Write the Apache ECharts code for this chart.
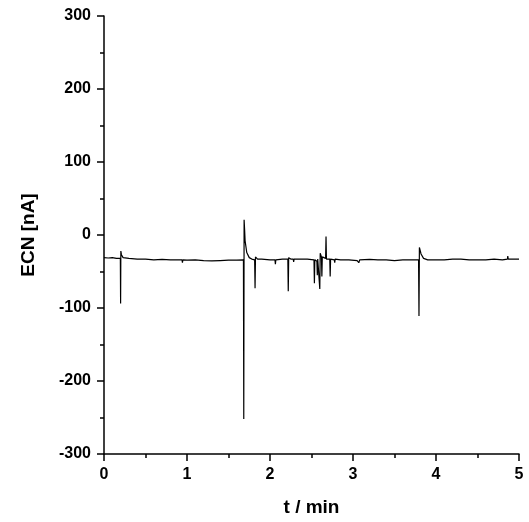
<!DOCTYPE html>
<html><head><meta charset="utf-8">
<script src="https://cdn.jsdelivr.net/npm/echarts@6/dist/echarts.min.js"></script>
<style>html,body{margin:0;padding:0;background:#fff}#c{width:529px;height:522px}</style>
</head><body><div id="c"></div>
<script>
const timeMin = [0.00,0.05,0.10,0.15,0.197,0.200,0.203,0.21,0.23,0.30,0.40,0.50,0.60,0.70,0.80,0.90,0.94,0.945,0.95,1.00,1.10,1.20,1.30,1.40,1.50,1.60,1.680,1.684,1.688,1.695,1.70,1.72,1.75,1.78,1.815,1.82,1.825,1.85,1.90,2.00,2.06,2.065,2.07,2.15,2.215,2.22,2.225,2.25,2.28,2.285,2.29,2.35,2.45,2.53,2.535,2.54,2.565,2.57,2.575,2.595,2.60,2.605,2.62,2.625,2.63,2.67,2.675,2.68,2.72,2.725,2.73,2.775,2.78,2.785,2.85,2.95,3.05,3.07,3.08,3.20,3.30,3.40,3.50,3.60,3.70,3.79,3.795,3.80,3.82,3.85,3.90,4.00,4.10,4.20,4.30,4.40,4.50,4.60,4.70,4.80,4.86,4.865,4.87,4.95,5.00];
const ecnNA = [-31,-31.5,-31,-32,-32,-94,-22,-27,-31,-32,-33,-33,-34,-33.5,-34,-34,-34,-38,-34,-34.5,-34,-35,-35.5,-35,-34.5,-34.5,-34,-252,21,5,-8,-24,-31,-33,-34,-73,-30,-33,-33,-34,-34,-40,-34,-33,-33,-77,-31,-33,-33,-37,-33,-33,-33,-34,-66,-34,-36,-55,-33,-33,-74,-25,-30,-57,-30,-32,-2,-33,-33,-57,-33,-34,-38,-33,-34,-34,-35,-38,-34,-33.5,-34,-34,-35,-34,-34,-34,-111,-17,-26,-32,-34,-34,-34,-33,-33,-34,-34,-34,-33,-34,-33,-29,-33,-33,-33];
const xTicks = [0,1,2,3,4,5];
const yTicks = [-300,-200,-100,0,100,200,300];

const data = timeMin.map((t,i)=>[t,ecnNA[i]]);
const font = 'Liberation Sans, Arial, sans-serif';
const chart = echarts.init(document.getElementById('c'), null, {renderer:'canvas'});
chart.setOption({
  animation:false,
  backgroundColor:'#fff',
  grid:{left:104,right:10,top:16,bottom:67,containLabel:false},
  xAxis:{type:'value',min:xTicks[0],max:xTicks[xTicks.length-1],interval:1,
    name:'t / min',nameLocation:'middle',nameGap:44,
    nameTextStyle:{fontFamily:font,fontWeight:'bold',fontSize:19,color:'#000'},
    axisLine:{show:true,onZero:false,lineStyle:{color:'#000',width:1.5}},
    axisTick:{show:true,inside:false,length:7,lineStyle:{color:'#000',width:1.5}},
    minorTick:{show:true,splitNumber:2,length:4,lineStyle:{color:'#000',width:1.5}},
    axisLabel:{margin:13,fontFamily:font,fontWeight:'bold',fontSize:16,color:'#000'},
    splitLine:{show:false}},
  yAxis:{type:'value',min:yTicks[0],max:yTicks[yTicks.length-1],interval:100,
    name:'ECN [nA]',nameLocation:'middle',nameGap:66,
    nameTextStyle:{fontFamily:font,fontWeight:'bold',fontSize:19,color:'#000'},
    axisLine:{show:true,onZero:false,lineStyle:{color:'#000',width:1.5}},
    axisTick:{show:true,inside:false,length:7,lineStyle:{color:'#000',width:1.5}},
    minorTick:{show:true,splitNumber:2,length:4,lineStyle:{color:'#000',width:1.5}},
    axisLabel:{margin:13,fontFamily:font,fontWeight:'bold',fontSize:16,color:'#000'},
    splitLine:{show:false}},
  series:[{type:'line',data:data,showSymbol:false,symbol:'none',
    lineStyle:{color:'#000',width:1.2},z:3}]
});
</script></body></html>
